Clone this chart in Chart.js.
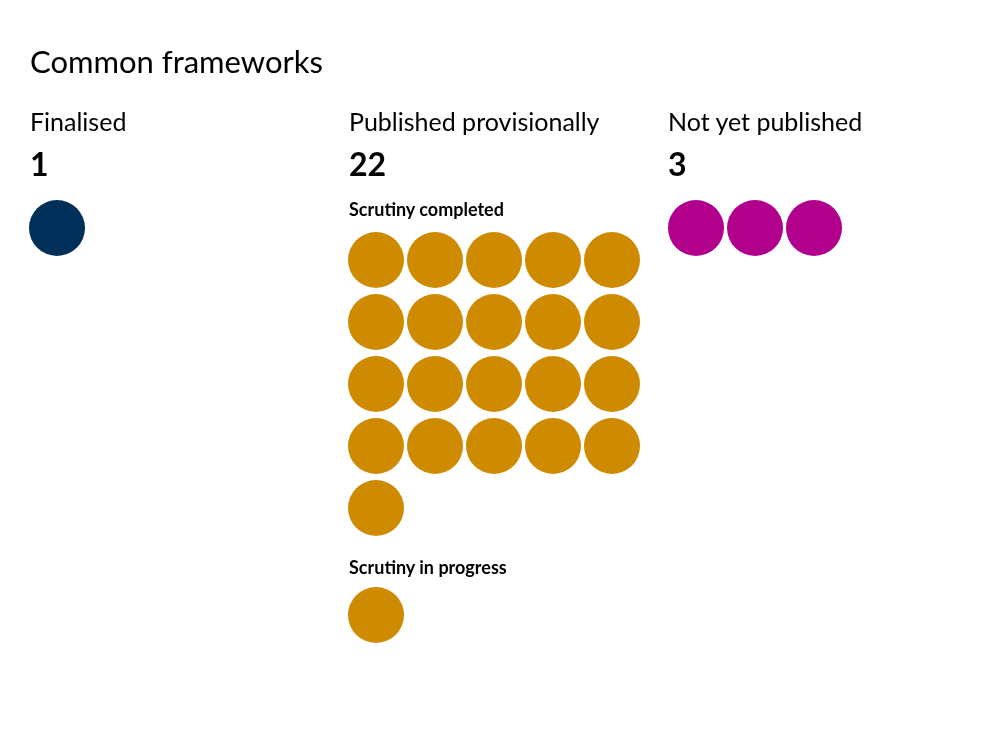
<!DOCTYPE html>
<html><head><meta charset="utf-8">
<script src="https://cdn.jsdelivr.net/npm/chart.js@4"></script>
<style>
body{margin:0;background:#fff;font-family:"Lato","Open Sans",sans-serif;color:#000}
#wrap{position:relative;width:989px;height:739px}
canvas{position:absolute;left:0;top:0}
.t{position:absolute;white-space:nowrap}
.title{font-size:31px;left:30px;top:42px}
.grp{font-size:25px;top:106px}
.num{font-size:32px;font-weight:700;top:144px}
.sub{font-size:18px;font-weight:700}
</style></head><body>
<div id="wrap">
<canvas id="c" width="989" height="739"></canvas>
<div class="t title">Common frameworks</div>
<div class="t grp" style="left:30px">Finalised</div>
<div class="t grp" style="left:349px">Published provisionally</div>
<div class="t grp" style="left:668px">Not yet published</div>
<div class="t num" style="left:30px" id="n0"></div>
<div class="t num" style="left:349px" id="n1"></div>
<div class="t num" style="left:668px" id="n2"></div>
<div class="t sub" style="left:349px;top:198px">Scrutiny completed</div>
<div class="t sub" style="left:349px;top:556px">Scrutiny in progress</div>
</div>
<script>
const categories=["Finalised","Scrutiny completed","Scrutiny in progress","Not yet published"];
const counts=[1,21,1,3];
const colors=["#002f5a","#cf8b00","#cf8b00","#b0008c"];
const totals=[1,22,3];
document.getElementById('n0').textContent=totals[0];
document.getElementById('n1').textContent=totals[1];
document.getElementById('n2').textContent=totals[2];
const layout=[{x:57,y:228,cols:1},{x:376,y:260,cols:5},{x:376,y:615,cols:5},{x:696,y:228,cols:3}];
const dx=59, dy=62;
const datasets=categories.map((c,i)=>{
  const L=layout[i],pts=[];
  const cols = i===3?counts[i]:L.cols;
  for(let k=0;k<counts[i];k++){pts.push({x:L.x+(k%cols)*dx,y:L.y+Math.floor(k/cols)*dy});}
  return {label:c,data:pts,backgroundColor:colors[i],borderWidth:0,pointRadius:28,pointHoverRadius:28,clip:false};
});
new Chart(document.getElementById('c'),{type:'scatter',data:{datasets},
options:{responsive:false,animation:false,layout:{padding:0,autoPadding:false},
plugins:{legend:{display:false},tooltip:{enabled:false}},
scales:{x:{display:false,min:0,max:989},y:{display:false,min:0,max:739,reverse:true}}}});
</script></body></html>
